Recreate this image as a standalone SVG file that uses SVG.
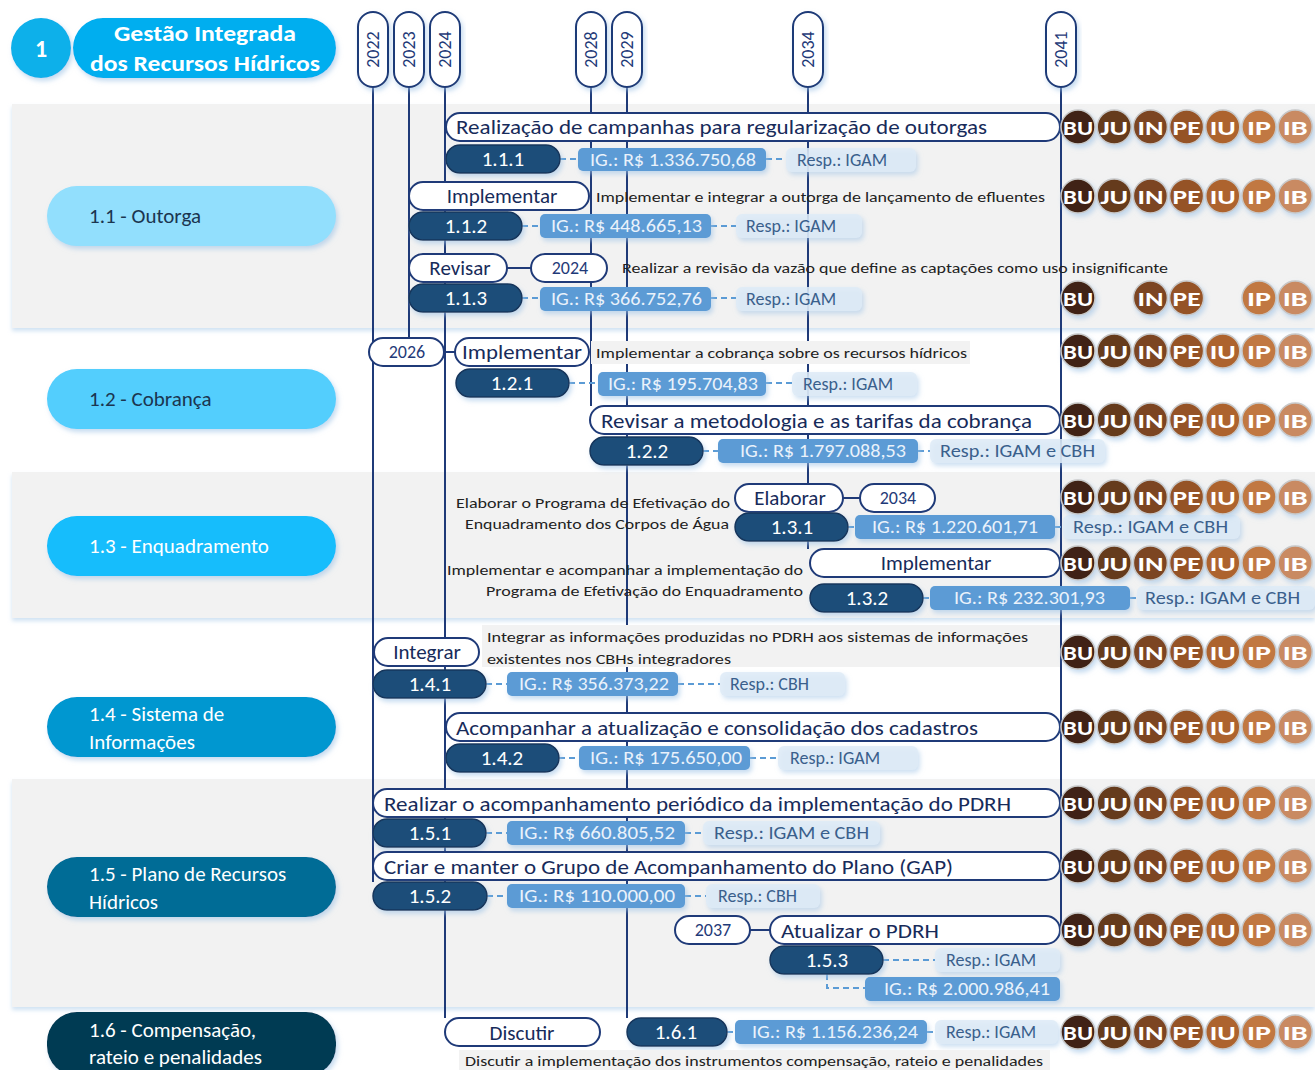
<svg xmlns="http://www.w3.org/2000/svg" xmlns:xlink="http://www.w3.org/1999/xlink" width="1315" height="1070" viewBox="0 0 1315 1070">
<defs>
<filter id="sh" x="-10%" y="-20%" width="130%" height="160%"><feDropShadow dx="2" dy="3" stdDeviation="2.5" flood-color="#9dc3e6" flood-opacity="0.6"/></filter>
<filter id="bs" x="-5%" y="-5%" width="110%" height="115%"><feDropShadow dx="0" dy="3" stdDeviation="2" flood-color="#bdd7ee" flood-opacity="0.7"/></filter>
<style>
text{font-family:Carlito,Lato,"Open Sans",sans-serif;}
.band{fill:#f2f2f2;filter:url(#bs);}
.vl{stroke:#1f3a78;stroke-width:2;fill:none;}
.sl{stroke:#1f3a78;stroke-width:2;fill:none;}
.dl{stroke:#5b9bd5;stroke-width:2;stroke-dasharray:6 4;fill:none;}
.yr{fill:#fff;stroke:#1f3a78;stroke-width:2;filter:url(#sh);}
.yt{font-size:18px;fill:#1f3a78;text-anchor:middle;}
.tp{fill:#fff;stroke:#1f3a78;stroke-width:2;}
.tt{font-size:21px;fill:#172b5a;}
.ttc{font-size:21px;fill:#172b5a;text-anchor:middle;}
.id{fill:#1f4e79;stroke:#16365c;stroke-width:1.5;filter:url(#sh);}
.idt{font-size:21px;fill:#fff;text-anchor:middle;}
.ig{fill:#5b9bd5;filter:url(#sh);}
.igt{font-size:18px;fill:#eaf2fb;}
.rs{fill:#deebf7;fill-opacity:0.85;filter:url(#sh);}
.rst{font-size:18px;fill:#3a5f8c;}
.ds{font-size:15px;fill:#222;}
.dsr{font-size:15px;fill:#222;text-anchor:end;}
.db{fill:#f2f2f2;}
.cat{filter:url(#sh);}
.ct{font-size:21px;}
.bd{stroke:#c8c8c8;stroke-width:1.5;filter:url(#sh);}
.bt{font-size:21px;font-weight:bold;fill:#fff;text-anchor:middle;}
</style>
<g id="badges7">
<circle class="bd" cx="0" cy="0" r="17" fill="#412413"/><text class="bt" x="0" y="7.5" textLength="30" lengthAdjust="spacingAndGlyphs">BU</text>
<circle class="bd" cx="36.2" cy="0" r="17" fill="#653a1c"/><text class="bt" x="36.2" y="7.5" textLength="28" lengthAdjust="spacingAndGlyphs">JU</text>
<circle class="bd" cx="72.4" cy="0" r="17" fill="#7b4523"/><text class="bt" x="72.4" y="7.5" textLength="26" lengthAdjust="spacingAndGlyphs">IN</text>
<circle class="bd" cx="108.6" cy="0" r="17" fill="#955328"/><text class="bt" x="108.6" y="7.5" textLength="28" lengthAdjust="spacingAndGlyphs">PE</text>
<circle class="bd" cx="144.8" cy="0" r="17" fill="#ad642f"/><text class="bt" x="144.8" y="7.5" textLength="26" lengthAdjust="spacingAndGlyphs">IU</text>
<circle class="bd" cx="181" cy="0" r="17" fill="#c17843"/><text class="bt" x="181" y="7.5" textLength="24" lengthAdjust="spacingAndGlyphs">IP</text>
<circle class="bd" cx="217.2" cy="0" r="17" fill="#c98a62"/><text class="bt" x="217.2" y="7.5" textLength="25" lengthAdjust="spacingAndGlyphs">IB</text>
</g>
</defs>

<rect width="1315" height="1070" fill="#fff"/>

<!-- bands -->
<g id="bands">
<rect class="band" x="12" y="104" width="1303" height="224"/>
<rect class="band" x="12" y="472" width="1303" height="146"/>
<rect class="band" x="12" y="779" width="1303" height="228"/>
</g>

<!-- header -->
<g id="header">
<circle cx="41" cy="48" r="30" fill="#0fb0ea" filter="url(#sh)"/>
<text x="41" y="57" font-size="24" font-weight="bold" fill="#fff" text-anchor="middle">1</text>
<rect x="73" y="18" width="263" height="60" rx="30" fill="#00aeef" filter="url(#sh)"/>
<text x="205" y="41" font-size="22" font-weight="bold" fill="#fff" text-anchor="middle" textLength="182" lengthAdjust="spacingAndGlyphs">Gestão Integrada</text>
<text x="205" y="71" font-size="22" font-weight="bold" fill="#fff" text-anchor="middle" textLength="230" lengthAdjust="spacingAndGlyphs">dos Recursos Hídricos</text>
</g>

<!-- categories -->
<g id="cat-1-1"><rect class="cat" x="47" y="186" width="289" height="60" rx="30" fill="#92dffd"/><text class="ct" x="89" y="223" fill="#1b3550">1.1 - Outorga</text></g>
<g id="cat-1-2"><rect class="cat" x="47" y="369" width="289" height="60" rx="30" fill="#53cefd"/><text class="ct" x="89" y="406" fill="#1b3550">1.2 - Cobrança</text></g>
<g id="cat-1-3"><rect class="cat" x="47" y="516" width="289" height="60" rx="30" fill="#12bdfc"/><text class="ct" x="89" y="553" fill="#fff">1.3 - Enquadramento</text></g>
<g id="cat-1-4"><rect class="cat" x="47" y="697" width="289" height="60" rx="30" fill="#0097d0"/><text class="ct" x="89" y="721" fill="#fff">1.4 - Sistema de</text><text class="ct" x="89" y="749" fill="#fff">Informações</text></g>
<g id="cat-1-5"><rect class="cat" x="47" y="857" width="289" height="60" rx="30" fill="#006c96"/><text class="ct" x="89" y="881" fill="#fff">1.5 - Plano de Recursos</text><text class="ct" x="89" y="909" fill="#fff">Hídricos</text></g>
<g id="cat-1-6"><rect class="cat" x="47" y="1012" width="289" height="64" rx="30" fill="#003a52"/><text class="ct" x="89" y="1037" fill="#fff">1.6 - Compensação,</text><text class="ct" x="89" y="1064" fill="#fff">rateio e penalidades</text></g>

<!-- connectors -->
<g id="connectors">
<line class="vl" x1="373" y1="87" x2="373" y2="882"/>
<line class="vl" x1="409" y1="87" x2="409" y2="338"/>
<line class="vl" x1="445" y1="87" x2="445" y2="1018"/>
<line class="vl" x1="591" y1="87" x2="591" y2="406"/>
<line class="vl" x1="627" y1="87" x2="627" y2="1018"/>
<line class="vl" x1="808" y1="87" x2="808" y2="549"/>
<line class="vl" x1="1061" y1="87" x2="1061" y2="930"/>
<line class="sl" x1="507" y1="268" x2="531" y2="268"/>
<line class="sl" x1="444" y1="352" x2="455" y2="352"/>
<line class="sl" x1="843" y1="498" x2="860" y2="498"/>
<line class="sl" x1="750" y1="930" x2="770" y2="930"/>
<line class="dl" x1="560" y1="159" x2="578" y2="159"/><line class="dl" x1="766" y1="159" x2="786" y2="159"/>
<line class="dl" x1="522" y1="226" x2="540" y2="226"/><line class="dl" x1="711" y1="226" x2="736" y2="226"/>
<line class="dl" x1="522" y1="298" x2="540" y2="298"/><line class="dl" x1="711" y1="298" x2="736" y2="298"/>
<line class="dl" x1="569" y1="383" x2="598" y2="383"/><line class="dl" x1="766" y1="383" x2="792" y2="383"/>
<line class="dl" x1="703" y1="451" x2="718" y2="451"/><line class="dl" x1="918" y1="451" x2="930" y2="451"/>
<line class="dl" x1="848" y1="527" x2="855" y2="527"/><line class="dl" x1="1055" y1="527" x2="1063" y2="527"/>
<line class="dl" x1="923" y1="598" x2="930" y2="598"/><line class="dl" x1="1130" y1="598" x2="1137" y2="598"/>
<line class="dl" x1="486" y1="684" x2="507" y2="684"/><line class="dl" x1="678" y1="684" x2="720" y2="684"/>
<line class="dl" x1="559" y1="758" x2="579" y2="758"/><line class="dl" x1="750" y1="758" x2="778" y2="758"/>
<line class="dl" x1="486" y1="833" x2="507" y2="833"/><line class="dl" x1="685" y1="833" x2="703" y2="833"/>
<line class="dl" x1="487" y1="896" x2="507" y2="896"/><line class="dl" x1="685" y1="896" x2="706" y2="896"/>
<line class="dl" x1="883" y1="960" x2="935" y2="960"/>
<polyline class="dl" points="827,974 827,988 865,988"/>
<line class="dl" x1="727" y1="1032" x2="735" y2="1032"/><line class="dl" x1="927" y1="1032" x2="935" y2="1032"/>
</g>

<!-- years -->
<g id="years">
<g id="y2022"><rect class="yr" x="358" y="12" width="30" height="75" rx="15"/><text class="yt" transform="translate(379,49.5) rotate(-90)">2022</text></g>
<g id="y2023"><rect class="yr" x="394" y="12" width="30" height="75" rx="15"/><text class="yt" transform="translate(415,49.5) rotate(-90)">2023</text></g>
<g id="y2024"><rect class="yr" x="430" y="12" width="30" height="75" rx="15"/><text class="yt" transform="translate(451,49.5) rotate(-90)">2024</text></g>
<g id="y2028"><rect class="yr" x="576" y="12" width="30" height="75" rx="15"/><text class="yt" transform="translate(597,49.5) rotate(-90)">2028</text></g>
<g id="y2029"><rect class="yr" x="612" y="12" width="30" height="75" rx="15"/><text class="yt" transform="translate(633,49.5) rotate(-90)">2029</text></g>
<g id="y2034"><rect class="yr" x="793" y="12" width="30" height="75" rx="15"/><text class="yt" transform="translate(814,49.5) rotate(-90)">2034</text></g>
<g id="y2041"><rect class="yr" x="1046" y="12" width="30" height="75" rx="15"/><text class="yt" transform="translate(1067,49.5) rotate(-90)">2041</text></g>
</g>

<!-- 1.1.1 -->
<g id="n111">
<rect class="tp" x="446" y="113" width="614" height="28" rx="14"/>
<text class="tt" x="456" y="134" textLength="531" lengthAdjust="spacingAndGlyphs">Realização de campanhas para regularização de outorgas</text>
<rect class="id" x="446" y="145" width="114" height="28" rx="14"/><text class="idt" x="503" y="166">1.1.1</text>
<rect class="ig" x="578" y="148" width="188" height="23" rx="5"/><text class="igt" x="590" y="166" textLength="166" lengthAdjust="spacingAndGlyphs">IG.: R$ 1.336.750,68</text>
<rect class="rs" x="786" y="148" width="130" height="24" rx="6"/><text class="rst" x="797" y="166">Resp.: IGAM</text>
<use href="#badges7" x="1078" y="127"/>
</g>

<!-- 1.1.2 -->
<g id="n112">
<rect class="tp" x="409" y="182" width="180" height="28" rx="14"/><text class="ttc" x="502" y="203">Implementar</text>
<text class="ds" x="596" y="202" textLength="449" lengthAdjust="spacingAndGlyphs">Implementar e integrar a outorga de lançamento de efluentes</text>
<rect class="id" x="409" y="212" width="113" height="28" rx="14"/><text class="idt" x="466" y="233">1.1.2</text>
<rect class="ig" x="540" y="214" width="171" height="24" rx="5"/><text class="igt" x="551" y="232" textLength="151" lengthAdjust="spacingAndGlyphs">IG.: R$ 448.665,13</text>
<rect class="rs" x="736" y="214" width="126" height="24" rx="6"/><text class="rst" x="746" y="232">Resp.: IGAM</text>
<use href="#badges7" x="1078" y="196"/>
</g>

<!-- 1.1.3 -->
<g id="n113">
<rect class="tp" x="409" y="254" width="98" height="28" rx="14"/><text class="ttc" x="460" y="275">Revisar</text>
<rect class="tp" x="531" y="254" width="76" height="28" rx="14"/><text class="yt" x="570" y="274">2024</text>
<text class="ds" x="622" y="273" textLength="546" lengthAdjust="spacingAndGlyphs">Realizar a revisão da vazão que define as captações como uso insignificante</text>
<rect class="id" x="409" y="284" width="113" height="28" rx="14"/><text class="idt" x="466" y="305">1.1.3</text>
<rect class="ig" x="540" y="287" width="171" height="24" rx="5"/><text class="igt" x="551" y="305" textLength="151" lengthAdjust="spacingAndGlyphs">IG.: R$ 366.752,76</text>
<rect class="rs" x="736" y="287" width="126" height="24" rx="6"/><text class="rst" x="746" y="305">Resp.: IGAM</text>
<g transform="translate(1078,298)">
<circle class="bd" cx="0" cy="0" r="17" fill="#412413"/><text class="bt" x="0" y="7.5" textLength="30" lengthAdjust="spacingAndGlyphs">BU</text>
<circle class="bd" cx="72.4" cy="0" r="17" fill="#7b4523"/><text class="bt" x="72.4" y="7.5" textLength="26" lengthAdjust="spacingAndGlyphs">IN</text>
<circle class="bd" cx="108.6" cy="0" r="17" fill="#955328"/><text class="bt" x="108.6" y="7.5" textLength="28" lengthAdjust="spacingAndGlyphs">PE</text>
<circle class="bd" cx="181" cy="0" r="17" fill="#c17843"/><text class="bt" x="181" y="7.5" textLength="24" lengthAdjust="spacingAndGlyphs">IP</text>
<circle class="bd" cx="217.2" cy="0" r="17" fill="#c98a62"/><text class="bt" x="217.2" y="7.5" textLength="25" lengthAdjust="spacingAndGlyphs">IB</text>
</g>
</g>

<!-- 1.2.1 -->
<g id="n121">
<rect class="tp" x="369" y="338" width="75" height="28" rx="14"/><text class="yt" x="407" y="358">2026</text>
<rect class="tp" x="455" y="338" width="134" height="28" rx="14"/><text class="ttc" x="522" y="359" textLength="120" lengthAdjust="spacingAndGlyphs">Implementar</text>
<rect class="db" x="591" y="341" width="379" height="23"/>
<text class="ds" x="596" y="358" textLength="371" lengthAdjust="spacingAndGlyphs">Implementar a cobrança sobre os recursos hídricos</text>
<rect class="id" x="456" y="369" width="113" height="28" rx="14"/><text class="idt" x="512" y="390">1.2.1</text>
<rect class="ig" x="598" y="372" width="168" height="24" rx="5"/><text class="igt" x="608" y="390" textLength="150" lengthAdjust="spacingAndGlyphs">IG.: R$ 195.704,83</text>
<rect class="rs" x="792" y="372" width="125" height="24" rx="6"/><text class="rst" x="803" y="390">Resp.: IGAM</text>
<use href="#badges7" x="1078" y="351"/>
</g>

<!-- 1.2.2 -->
<g id="n122">
<rect class="tp" x="590" y="406" width="470" height="28" rx="14"/>
<text class="tt" x="601" y="428" textLength="431" lengthAdjust="spacingAndGlyphs">Revisar a metodologia e as tarifas da cobrança</text>
<rect class="id" x="590" y="437" width="113" height="28" rx="14"/><text class="idt" x="647" y="458">1.2.2</text>
<rect class="ig" x="718" y="439" width="200" height="24" rx="5"/><text class="igt" x="740" y="457" textLength="166" lengthAdjust="spacingAndGlyphs">IG.: R$ 1.797.088,53</text>
<rect class="rs" x="930" y="439" width="175" height="24" rx="6"/><text class="rst" x="940" y="457" textLength="155" lengthAdjust="spacingAndGlyphs">Resp.: IGAM e CBH</text>
<use href="#badges7" x="1078" y="420"/>
</g>

<!-- 1.3.1 -->
<g id="n131">
<text class="dsr" x="730" y="508" textLength="274" lengthAdjust="spacingAndGlyphs">Elaborar o Programa de Efetivação do</text>
<text class="dsr" x="729" y="529" textLength="264" lengthAdjust="spacingAndGlyphs">Enquadramento dos Corpos de Água</text>
<rect class="tp" x="735" y="484" width="108" height="28" rx="14"/><text class="ttc" x="790" y="505">Elaborar</text>
<rect class="tp" x="860" y="484" width="75" height="28" rx="14"/><text class="yt" x="898" y="504">2034</text>
<rect class="id" x="735" y="513" width="113" height="28" rx="14"/><text class="idt" x="792" y="534">1.3.1</text>
<rect class="ig" x="855" y="515" width="200" height="24" rx="5"/><text class="igt" x="872" y="533" textLength="166" lengthAdjust="spacingAndGlyphs">IG.: R$ 1.220.601,71</text>
<rect class="rs" x="1063" y="515" width="177" height="24" rx="6"/><text class="rst" x="1073" y="533" textLength="155" lengthAdjust="spacingAndGlyphs">Resp.: IGAM e CBH</text>
<use href="#badges7" x="1078" y="497"/>
</g>

<!-- 1.3.2 -->
<g id="n132">
<text class="dsr" x="803" y="575" textLength="356" lengthAdjust="spacingAndGlyphs">Implementar e acompanhar a implementação do</text>
<text class="dsr" x="803" y="596" textLength="317" lengthAdjust="spacingAndGlyphs">Programa de Efetivação do Enquadramento</text>
<rect class="tp" x="810" y="549" width="250" height="28" rx="14"/><text class="ttc" x="936" y="570">Implementar</text>
<rect class="id" x="810" y="584" width="113" height="28" rx="14"/><text class="idt" x="867" y="605">1.3.2</text>
<rect class="ig" x="930" y="586" width="200" height="24" rx="5"/><text class="igt" x="954" y="604" textLength="151" lengthAdjust="spacingAndGlyphs">IG.: R$ 232.301,93</text>
<rect class="rs" x="1137" y="586" width="178" height="24" rx="6"/><text class="rst" x="1145" y="604" textLength="155" lengthAdjust="spacingAndGlyphs">Resp.: IGAM e CBH</text>
<use href="#badges7" x="1078" y="563"/>
</g>

<!-- 1.4.1 -->
<g id="n141">
<rect class="db" x="482" y="625" width="578" height="42"/>
<text class="ds" x="487" y="642" textLength="541" lengthAdjust="spacingAndGlyphs">Integrar as informações produzidas no PDRH aos sistemas de informações</text>
<text class="ds" x="487" y="664" textLength="244" lengthAdjust="spacingAndGlyphs">existentes nos CBHs integradores</text>
<rect class="tp" x="374" y="638" width="105" height="28" rx="14"/><text class="ttc" x="427" y="659">Integrar</text>
<rect class="id" x="373" y="670" width="113" height="28" rx="14"/><text class="idt" x="430" y="691">1.4.1</text>
<rect class="ig" x="507" y="672" width="171" height="24" rx="5"/><text class="igt" x="519" y="690" textLength="150" lengthAdjust="spacingAndGlyphs">IG.: R$ 356.373,22</text>
<rect class="rs" x="720" y="672" width="125" height="24" rx="6"/><text class="rst" x="730" y="690">Resp.: CBH</text>
<use href="#badges7" x="1078" y="652"/>
</g>

<!-- 1.4.2 -->
<g id="n142">
<rect class="tp" x="446" y="713" width="614" height="28" rx="14"/>
<text class="tt" x="456" y="735" textLength="522" lengthAdjust="spacingAndGlyphs">Acompanhar a atualização e consolidação dos cadastros</text>
<rect class="id" x="446" y="744" width="113" height="28" rx="14"/><text class="idt" x="502" y="765">1.4.2</text>
<rect class="ig" x="579" y="746" width="171" height="24" rx="5"/><text class="igt" x="590" y="764" textLength="152" lengthAdjust="spacingAndGlyphs">IG.: R$ 175.650,00</text>
<rect class="rs" x="778" y="746" width="140" height="24" rx="6"/><text class="rst" x="790" y="764">Resp.: IGAM</text>
<use href="#badges7" x="1078" y="727"/>
</g>

<!-- 1.5.1 -->
<g id="n151">
<rect class="tp" x="373" y="789" width="687" height="28" rx="14"/>
<text class="tt" x="384" y="811" textLength="627" lengthAdjust="spacingAndGlyphs">Realizar o acompanhamento periódico da implementação do PDRH</text>
<rect class="id" x="373" y="819" width="113" height="28" rx="14"/><text class="idt" x="430" y="840">1.5.1</text>
<rect class="ig" x="507" y="821" width="178" height="24" rx="5"/><text class="igt" x="519" y="839" textLength="156" lengthAdjust="spacingAndGlyphs">IG.: R$  660.805,52</text>
<rect class="rs" x="703" y="821" width="177" height="24" rx="6"/><text class="rst" x="714" y="839" textLength="155" lengthAdjust="spacingAndGlyphs">Resp.: IGAM e CBH</text>
<use href="#badges7" x="1078" y="803"/>
</g>

<!-- 1.5.2 -->
<g id="n152">
<rect class="tp" x="373" y="852" width="687" height="28" rx="14"/>
<text class="tt" x="384" y="874" textLength="569" lengthAdjust="spacingAndGlyphs">Criar e manter o Grupo de Acompanhamento do Plano (GAP)</text>
<rect class="id" x="373" y="882" width="114" height="28" rx="14"/><text class="idt" x="430" y="903">1.5.2</text>
<rect class="ig" x="507" y="884" width="178" height="24" rx="5"/><text class="igt" x="519" y="902" textLength="156" lengthAdjust="spacingAndGlyphs">IG.: R$  110.000,00</text>
<rect class="rs" x="706" y="884" width="114" height="24" rx="6"/><text class="rst" x="718" y="902">Resp.: CBH</text>
<use href="#badges7" x="1078" y="866"/>
</g>

<!-- 1.5.3 -->
<g id="n153">
<rect class="tp" x="675" y="916" width="75" height="28" rx="14"/><text class="yt" x="713" y="936">2037</text>
<rect class="tp" x="770" y="916" width="290" height="28" rx="14"/><text class="tt" x="781" y="938" textLength="158" lengthAdjust="spacingAndGlyphs">Atualizar o PDRH</text>
<rect class="id" x="770" y="946" width="113" height="28" rx="14"/><text class="idt" x="827" y="967">1.5.3</text>
<rect class="rs" x="935" y="948" width="125" height="24" rx="6"/><text class="rst" x="946" y="966">Resp.: IGAM</text>
<rect class="ig" x="865" y="977" width="195" height="24" rx="5"/><text class="igt" x="884" y="995" textLength="166" lengthAdjust="spacingAndGlyphs">IG.: R$ 2.000.986,41</text>
<use href="#badges7" x="1078" y="930"/>
</g>

<!-- 1.6.1 -->
<g id="n161">
<rect class="tp" x="445" y="1018" width="155" height="28" rx="14"/><text class="ttc" x="522" y="1040">Discutir</text>
<rect class="id" x="627" y="1018" width="100" height="28" rx="14"/><text class="idt" x="676" y="1039">1.6.1</text>
<rect class="ig" x="735" y="1020" width="192" height="24" rx="5"/><text class="igt" x="752" y="1038" textLength="166" lengthAdjust="spacingAndGlyphs">IG.: R$ 1.156.236,24</text>
<rect class="rs" x="935" y="1020" width="123" height="24" rx="6"/><text class="rst" x="946" y="1038">Resp.: IGAM</text>
<rect class="db" x="459" y="1050" width="591" height="20"/>
<text class="ds" x="465" y="1066" textLength="578" lengthAdjust="spacingAndGlyphs">Discutir a implementação dos instrumentos compensação, rateio e penalidades</text>
<use href="#badges7" x="1078" y="1032"/>
</g>
</svg>
